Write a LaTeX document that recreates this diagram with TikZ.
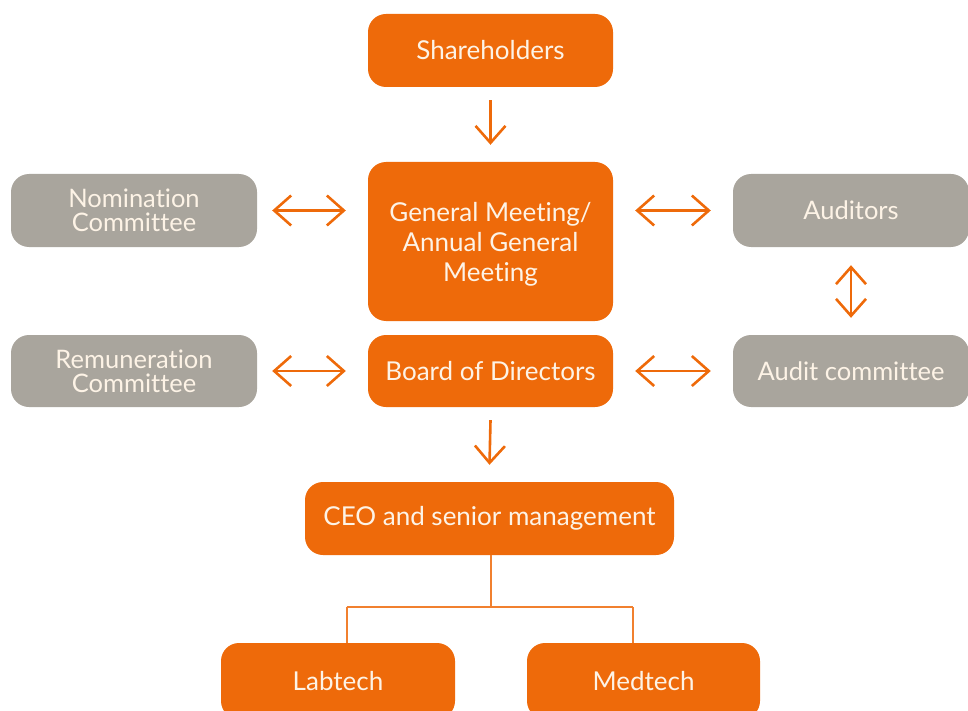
\documentclass[tikz,border=0pt]{standalone}
\usepackage{fontspec}
\setmainfont{Lato}[Ligatures=NoCommon]
\usetikzlibrary{arrows.meta}
\definecolor{orng}{HTML}{EE6A0A}
\definecolor{gry}{HTML}{A9A59D}
\definecolor{txt}{HTML}{FDF3E6}
\tikzset{
  box/.style={rounded corners=18pt, inner sep=0pt, text=txt, align=center,
    font=\fontsize{26}{30}\selectfont},
  obox/.style={box, fill=orng},
  gbox/.style={box, fill=gry, font=\fontsize{25.5}{24}\selectfont},
  tip/.tip={Straight Barb[length=17pt,width=30pt,line width=2.6pt]},
  arr/.style={draw=orng, line width=2.6pt, -tip},
  darr/.style={draw=orng, line width=2.6pt, tip-tip},
  tree/.style={draw=orng!85, line width=1.6pt}
}
\begin{document}
\begin{tikzpicture}[x=1pt,y=-1pt]
\useasboundingbox (0,0) rectangle (968,711);
\clip (0,0) rectangle (968,711);
\node[obox, minimum width=245pt, minimum height=73pt] (sh) at (490.5,50.5) {Shareholders};
\node[obox, minimum width=245pt, minimum height=159pt, text depth=-6pt] (gm) at (490.5,241.5) {General Meeting/\\Annual General\\Meeting};
\node[obox, minimum width=245pt, minimum height=72pt] (bd) at (490.5,371) {Board of Directors};
\node[gbox, minimum width=246pt, minimum height=73pt] (nc) at (134,210.5) {Nomination\\Committee};
\node[gbox, minimum width=246pt, minimum height=72pt] (rc) at (134,371) {Remuneration\\Committee};
\node[gbox, minimum width=236pt, minimum height=73pt] (au) at (851,210.5) {Auditors};
\node[gbox, minimum width=236pt, minimum height=72pt] (ac) at (851,371) {Audit committee};
\node[obox, minimum width=369pt, minimum height=73pt] (ceo) at (489.5,518.5) {CEO and senior management};
\node[obox, minimum width=234pt, minimum height=76pt] (lab) at (338,681) {Labtech};
\node[obox, minimum width=233pt, minimum height=76pt] (med) at (643.5,681) {Medtech};

\coordinate (j) at (490.7,607);
\coordinate (jl) at (346.7,607);
\coordinate (jr) at (632.7,607);

\draw[arr] ([yshift=-13pt]sh.south) -- ([yshift=17pt]gm.north);
\draw[arr] ([yshift=-13pt]bd.south) -- ([yshift=17pt]ceo.north);
\draw[darr] ([xshift=15pt]nc.east) -- ([xshift=-22pt]gm.west |- nc.east);
\draw[darr] ([xshift=15pt]rc.east) -- ([xshift=-22pt]bd.west);
\draw[darr] ([xshift=22pt]gm.east |- au.west) -- ([xshift=-22pt]au.west);
\draw[darr] ([xshift=22pt]bd.east) -- ([xshift=-22pt]ac.west);
\draw[darr] ([yshift=-18pt]au.south) -- ([yshift=17pt]ac.north);

\draw[tree] (ceo.south -| j) -- (j);
\draw[tree] (jl) -- (jr);
\draw[tree] (jl) -- (jl |- lab.north);
\draw[tree] (jr) -- (jr |- med.north);
\end{tikzpicture}
\end{document}
